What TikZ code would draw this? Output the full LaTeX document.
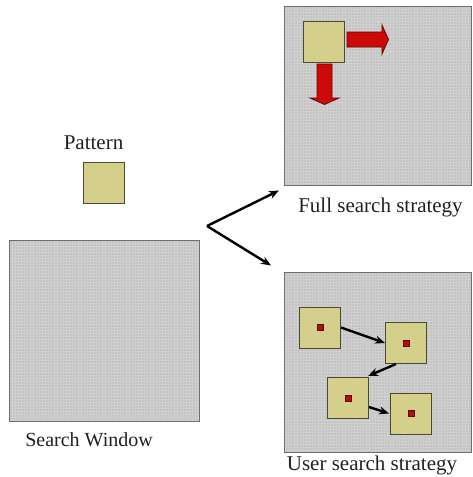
\documentclass[tikz,border=0pt]{standalone}
\usepackage{fontspec}
\setmainfont{Liberation Serif}
\usetikzlibrary{arrows.meta}
\definecolor{winfill}{HTML}{C4C4C4}
\definecolor{winline}{HTML}{6E6E6E}
\definecolor{gridc}{HTML}{D0D0D0}
\definecolor{sqfill}{HTML}{D4D08C}
\definecolor{sqline}{HTML}{4A4A30}
\definecolor{redfill}{HTML}{CC0A0A}
\definecolor{redline}{HTML}{6A0000}
\definecolor{dotfill}{HTML}{B01010}
\definecolor{txt}{HTML}{202020}
\tikzset{
  texture/.style={path picture={\draw[gridc,line width=0.35pt]
     (path picture bounding box.south west) grid[step=3pt] (path picture bounding box.north east);}},
  win/.style={fill=winfill,draw=winline,line width=1pt,texture},
  sq/.style={draw=sqline,fill=sqfill,line width=1pt,minimum size=41pt,inner sep=0pt,rectangle},
  dot/.style={draw=redline,fill=dotfill,line width=0.5pt,minimum size=6pt,inner sep=0pt,rectangle},
  redarrow/.style={fill=redfill,draw=redline,line width=0.8pt,line join=miter},
  blk/.style={line width=2.4pt,-{Stealth[length=10pt,width=8pt]}},
  lbl/.style={font=\fontsize{21}{24}\selectfont,inner sep=0pt,text=txt}
}
\begin{document}
\begin{tikzpicture}[x=1pt,y=-1pt]
\useasboundingbox (0,0) rectangle (472,477);
% search window
\path[win] (9,240) rectangle (199,421);
\node[lbl,font=\fontsize{20}{24}\selectfont] (swl) at (89,440) {Search Window};
% pattern
\node[lbl] (pl) at (93.5,143) {Pattern};
\node[sq] (pat) at (103.5,182.5) {};
% fork arrows
\coordinate (fork) at (207,226);
\coordinate (ft1) at (279,190.5);
\coordinate (ft2) at (271,265.5);
\draw[blk] (fork) -- (ft1);
\draw[blk] (fork) -- (ft2);
% full search panel
\path[win] (284,6) rectangle (471,185);
\node[sq] (fs) at (323.5,41.5) {};
\path[redarrow] (347,32) -- (382,32) -- (382,25) -- (388.5,39.5) -- (382,54) -- (382,47) -- (347,47) -- cycle;
\path[redarrow] (317,64) -- (332,64) -- (332,98) -- (339,98) -- (324.5,104.5) -- (310,98) -- (317,98) -- cycle;
\node[lbl] (fsl) at (380.5,207) {Full search strategy};
% user search panel
\path[win] (284,272) rectangle (471,452);
\node[sq] (s1) at (320,327.5) {};
\node[sq] (s2) at (406,343) {};
\node[sq] (s3) at (348,398) {};
\node[sq] (s4) at (411,413.5) {};
\node[dot] (d1) at (s1) {};
\node[dot] (d2) at (s2) {};
\node[dot] (d3) at (s3) {};
\node[dot] (d4) at (s4) {};
\draw[blk] (s1.east) -- (s2.west);
\draw[blk] ([xshift=-10pt]s2.south) -- ([xshift=-1pt,yshift=1pt]s3.north east);
\draw[blk] ([yshift=-9pt]s3.east) -- ([xshift=-1pt]s4.west);
\node[lbl] (usl) at (372,465) {User search strategy};
\end{tikzpicture}
\end{document}
